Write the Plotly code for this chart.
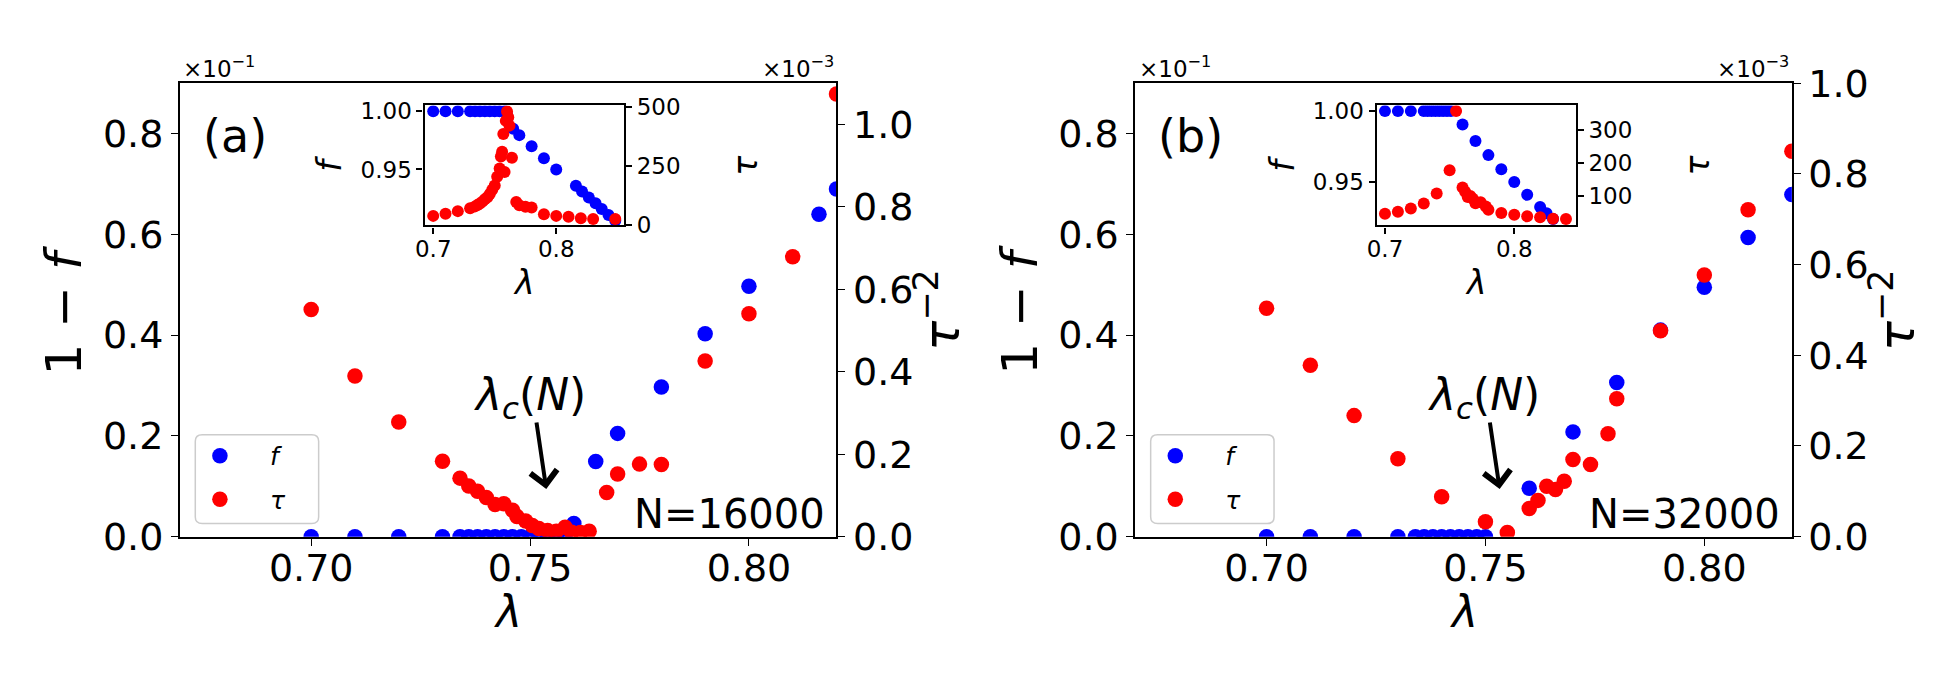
import plotly.graph_objects as go

W, H = 1951, 675
FONT = "DejaVu Sans"
BLUE = "#0000ff"
RED = "#ff0000"

# ---------------- Panel (a): N = 16000 ----------------
# main: 1-f (x10^-1, left axis) and tau^-2 (x10^-3, right axis)
lam_a_f = [0.700, 0.710, 0.720, 0.730, 0.734, 0.736, 0.738, 0.740, 0.742, 0.744,
           0.746, 0.748, 0.750, 0.752, 0.754, 0.756, 0.758, 0.760, 0.765, 0.770,
           0.780, 0.790, 0.800, 0.816, 0.820]
omf_a = [0, 0, 0, 0, 0, 0, 0, 0, 0, 0,
         0, 0, 0, 0, 0, 0, 0, 0.026, 0.149, 0.205,
         0.297, 0.403, 0.497, 0.640, 0.690]
lam_a_tau = [0.700, 0.710, 0.720, 0.730, 0.734, 0.736, 0.738, 0.740, 0.742, 0.744,
             0.746, 0.747, 0.749, 0.7505, 0.752, 0.754, 0.756, 0.758, 0.7595, 0.7615,
             0.7635, 0.7675, 0.770, 0.775, 0.780, 0.790, 0.800, 0.810, 0.820]
tau2_a = [0.551, 0.390, 0.278, 0.183, 0.142, 0.123, 0.110, 0.095, 0.078, 0.080,
          0.064, 0.049, 0.038, 0.027, 0.020, 0.015, 0.013, 0.023, 0.011, 0.010,
          0.013, 0.107, 0.152, 0.176, 0.175, 0.426, 0.541, 0.679, 1.074]
# inset: f (left) and tau (right)
lam_a_in_f = [0.700, 0.710, 0.720, 0.730, 0.734, 0.738, 0.742, 0.746, 0.750, 0.754,
              0.758, 0.760, 0.765, 0.770, 0.780, 0.790, 0.800, 0.816, 0.821, 0.8265,
              0.832, 0.837, 0.8425, 0.848]
f_a_in = [1, 1, 1, 1, 1, 1, 1, 1, 1, 1,
          1, 0.9974, 0.985, 0.9795, 0.970, 0.9597, 0.950, 0.936, 0.931, 0.926,
          0.921, 0.916, 0.911, 0.906]
lam_a_in_tau = [0.700, 0.710, 0.720, 0.730, 0.734, 0.736, 0.738, 0.740, 0.742, 0.744,
                0.746, 0.748, 0.750, 0.752, 0.754, 0.755, 0.756, 0.757, 0.758, 0.759,
                0.760, 0.761, 0.762, 0.764, 0.7675, 0.770, 0.775, 0.780, 0.790, 0.800,
                0.810, 0.820, 0.830, 0.848]
tau_a_in = [40, 49, 60, 72, 80, 86, 92, 100, 110, 118,
            132, 150, 168, 205, 240, 290, 310, 385, 225, 440,
            480, 455, 420, 285, 98, 85, 78, 75, 47, 40,
            36, 30, 27, 27]

# ---------------- Panel (b): N = 32000 ----------------
lam_b_f = [0.700, 0.710, 0.720, 0.730, 0.734, 0.736, 0.738, 0.740, 0.742, 0.744,
           0.746, 0.748, 0.750, 0.760, 0.770, 0.780, 0.790, 0.800, 0.810, 0.820]
omf_b = [0, 0, 0, 0, 0, 0, 0, 0, 0, 0,
         0, 0, 0, 0.096, 0.208, 0.306, 0.410, 0.495, 0.594, 0.679]
lam_b_tau = [0.700, 0.710, 0.720, 0.730, 0.740, 0.750, 0.755, 0.760, 0.762, 0.764,
             0.766, 0.768, 0.770, 0.774, 0.778, 0.780, 0.790, 0.800, 0.810, 0.820]
tau2_b = [0.504, 0.378, 0.267, 0.172, 0.088, 0.033, 0.009, 0.062, 0.080, 0.111,
          0.104, 0.122, 0.170, 0.159, 0.227, 0.304, 0.454, 0.577, 0.721, 0.850]
lam_b_in_f = [0.700, 0.710, 0.720, 0.730, 0.733, 0.736, 0.739, 0.742, 0.745, 0.748,
              0.751, 0.760, 0.770, 0.780, 0.790, 0.800, 0.810, 0.820, 0.825, 0.830]
f_b_in = [1, 1, 1, 1, 1, 1, 1, 1, 1, 1,
          1, 0.9906, 0.979, 0.969, 0.959, 0.950, 0.941, 0.9325, 0.928, 0.924]
lam_b_in_tau = [0.700, 0.710, 0.720, 0.730, 0.740, 0.750, 0.755, 0.760, 0.762, 0.764,
                0.766, 0.768, 0.770, 0.774, 0.778, 0.780, 0.790, 0.800, 0.810, 0.820,
                0.830, 0.840]
tau_b_in = [45, 51, 61, 76, 107, 178, 359, 125, 112, 96,
            99, 91, 77, 80, 67, 57, 47, 42, 37, 34,
            30, 29]

# tick labels
main_x_ticks = [0.70, 0.75, 0.80]
main_left_ticks = [0.0, 0.2, 0.4, 0.6, 0.8]
main_right_ticks = [0.0, 0.2, 0.4, 0.6, 0.8, 1.0]
inset_x_ticks = [0.7, 0.8]
inset_f_ticks = [0.95, 1.00]
inset_tau_ticks_a = [0, 250, 500]
inset_tau_ticks_b = [100, 200, 300]


def px(x):
    return x / W


def py(y):
    return 1 - y / H


def axis(size, lw, tl, **kw):
    d = dict(showline=True, linecolor="black", linewidth=lw, ticks="outside",
             ticklen=tl, tickwidth=lw * 0.8, tickcolor="black", showgrid=False,
             zeroline=False, tickfont=dict(size=size, color="black", family=FONT))
    d.update(kw)
    return d


fig = go.Figure()

MS = 15.5
IMS = 12

# panel (a) main
fig.add_trace(go.Scatter(x=lam_a_f, y=omf_a, mode="markers", name="<i>f</i>",
                         marker=dict(color=BLUE, size=MS), xaxis="x", yaxis="y",
                         legend="legend", legendgroup="fa"))
fig.add_trace(go.Scatter(x=lam_a_tau, y=tau2_a, mode="markers", name="<i>τ</i>",
                         marker=dict(color=RED, size=MS), xaxis="x", yaxis="y2",
                         legend="legend", legendgroup="ta"))
# panel (b) main
fig.add_trace(go.Scatter(x=lam_b_f, y=omf_b, mode="markers", name="<i>f</i>",
                         marker=dict(color=BLUE, size=MS), xaxis="x2", yaxis="y3",
                         legend="legend2", legendgroup="fb"))
fig.add_trace(go.Scatter(x=lam_b_tau, y=tau2_b, mode="markers", name="<i>τ</i>",
                         marker=dict(color=RED, size=MS), xaxis="x2", yaxis="y4",
                         legend="legend2", legendgroup="tb"))
# inset (a)
fig.add_trace(go.Scatter(x=lam_a_in_f, y=f_a_in, mode="markers", showlegend=False,
                         marker=dict(color=BLUE, size=IMS), xaxis="x3", yaxis="y5"))
fig.add_trace(go.Scatter(x=lam_a_in_tau, y=tau_a_in, mode="markers", showlegend=False,
                         marker=dict(color=RED, size=IMS), xaxis="x3", yaxis="y6"))
# inset (b)
fig.add_trace(go.Scatter(x=lam_b_in_f, y=f_b_in, mode="markers", showlegend=False,
                         marker=dict(color=BLUE, size=IMS), xaxis="x4", yaxis="y7"))
fig.add_trace(go.Scatter(x=lam_b_in_tau, y=tau_b_in, mode="markers", showlegend=False,
                         marker=dict(color=RED, size=IMS), xaxis="x4", yaxis="y8"))

# geometry (pixels)
A_L, A_R = 162.7, 822.7
B_L, B_R = 1123.0, 1783.0
TOP, BOT = 57.0, 542.0
IN_T, IN_B = 80.7, 209.0
IA_L, IA_R = 408.7, 609.0
IB_L, IB_R = 1365.7, 1565.7

ydom = [py(BOT), py(TOP)]
iydom = [py(IN_B), py(IN_T)]

TS = 38
ITS = 23
LW = 1.8
ILW = 2.4

mx = dict(range=[0.67, 0.82], tickvals=main_x_ticks, ticklabelstandoff=-10,
          ticktext=[f"{v:.2f}" for v in main_x_ticks], mirror=True)
ml = dict(range=[0, 0.9], tickvals=main_left_ticks,
          ticktext=[f"{v:.1f}" for v in main_left_ticks])
mr = dict(tickvals=main_right_ticks, ticktext=[f"{v:.1f}" for v in main_right_ticks])

fig.update_layout(
    width=W, height=H, margin=dict(l=0, r=0, t=0, b=0),
    paper_bgcolor="white", plot_bgcolor="white",
    font=dict(family=FONT, color="black"),
    xaxis=axis(TS, LW, 7, domain=[px(A_L), px(A_R)], anchor="y", **mx),
    yaxis=axis(TS, LW, 7, domain=ydom, anchor="x", **ml),
    yaxis2=axis(TS, LW, 7, overlaying="y", side="right", anchor="x",
                range=[0, 1.1], **mr),
    xaxis2=axis(TS, LW, 7, domain=[px(B_L), px(B_R)], anchor="y3", **mx),
    yaxis3=axis(TS, LW, 7, domain=ydom, anchor="x2", **ml),
    yaxis4=axis(TS, LW, 7, overlaying="y3", side="right", anchor="x2",
                range=[0, 1.0], **mr),
    xaxis3=axis(ITS, ILW, 6, domain=[px(IA_L), px(IA_R)], anchor="y5",
                range=[0.693, 0.855], tickvals=inset_x_ticks, ticklabelstandoff=-4,
                ticktext=[f"{v:.1f}" for v in inset_x_ticks], mirror=True),
    yaxis5=axis(ITS, ILW, 6, domain=iydom, anchor="x3", range=[0.902, 1.005],
                tickvals=inset_f_ticks, ticktext=[f"{v:.2f}" for v in inset_f_ticks]),
    yaxis6=axis(ITS, ILW, 6, overlaying="y5", side="right", anchor="x3",
                range=[0, 505], tickvals=inset_tau_ticks_a,
                ticktext=[str(v) for v in inset_tau_ticks_a]),
    xaxis4=axis(ITS, ILW, 6, domain=[px(IB_L), px(IB_R)], anchor="y7",
                range=[0.6936, 0.8475], tickvals=inset_x_ticks, ticklabelstandoff=-4,
                ticktext=[f"{v:.1f}" for v in inset_x_ticks], mirror=True),
    yaxis7=axis(ITS, ILW, 6, domain=iydom, anchor="x4", range=[0.9195, 1.004],
                tickvals=inset_f_ticks, ticktext=[f"{v:.2f}" for v in inset_f_ticks]),
    yaxis8=axis(ITS, ILW, 6, overlaying="y7", side="right", anchor="x4",
                range=[9.4, 376], tickvals=inset_tau_ticks_b,
                ticktext=[str(v) for v in inset_tau_ticks_b]),
)

# legends
LEG_FONT = 25
for key, left in (("legend", A_L), ("legend2", B_L)):
    fig.update_layout({key: dict(
        x=px(left - 10), y=py(431), xanchor="left", yanchor="top",
        bgcolor="rgba(0,0,0,0)", borderwidth=0, itemwidth=90,
        tracegroupgap=8, font=dict(size=LEG_FONT, family=FONT, color="black"))})


# rounded legend frames
def rrect(x0, y0, x1, y1, r=7):
    X = lambda v: px(v)
    Y = lambda v: py(v)
    return (f"M {X(x0 + r)},{Y(y0)} L {X(x1 - r)},{Y(y0)} Q {X(x1)},{Y(y0)} {X(x1)},{Y(y0 + r)} "
            f"L {X(x1)},{Y(y1 - r)} Q {X(x1)},{Y(y1)} {X(x1 - r)},{Y(y1)} "
            f"L {X(x0 + r)},{Y(y1)} Q {X(x0)},{Y(y1)} {X(x0)},{Y(y1 - r)} "
            f"L {X(x0)},{Y(y0 + r)} Q {X(x0)},{Y(y0)} {X(x0 + r)},{Y(y0)} Z")


shapes = []
for left in (A_L, B_L):
    shapes.append(dict(type="path", xref="paper", yref="paper",
                       path=rrect(left + 15.5, 433, left + 139.5, 528),
                       line=dict(color="#cccccc", width=1.5),
                       fillcolor="rgba(255,255,255,0.8)", layer="below"))
fig.update_layout(shapes=shapes)

ann = []


def text(t, x, y, size, xa="center", ya="middle", angle=0):
    ann.append(dict(text=t, x=px(x), y=py(y), xref="paper", yref="paper",
                    xanchor=xa, yanchor=ya, showarrow=False, textangle=angle,
                    font=dict(size=size, family=FONT, color="black")))


for off, lab, n, dx in ((0, "(a)", "N=16000", 0), (B_L - A_L, "(b)", "N=32000", -2)):
    text(lab, 184 + off, 113, 46, xa="left")
    text("×10<sup>−1</sup>", 164 + off, 40, 23, xa="left")
    text("×10<sup>−3</sup>", 822 + off, 40, 23, xa="right")
    text("1 − <i>f</i>", A_L - 116 + off, 299.5, 50, angle=-90)
    text("<i>τ</i><sup>−2</sup>", A_R + 103 + off, 299.5, 50, angle=-90)
    text("<i>λ</i>", (A_L + A_R) / 2 + off, 622, 44)
    text(n, 813 + off, 518, 40, xa="right")
    text("<i>λ</i><sub><i>c</i></sub>(<i>N</i>)", 515 + off + dx, 393, 44)
    ann.append(dict(text="", x=px(531 + off + dx), y=py(491),
                    ax=-10, ay=-68, xref="paper", yref="paper", showarrow=True,
                    arrowhead=4, arrowsize=1.3, arrowwidth=4, arrowcolor="black",
                    standoff=0))

for il, ir in ((IA_L, IA_R), (IB_L, IB_R)):
    text("<i>f</i>", il - 95, 143, 33, angle=-90)
    text("<i>λ</i>", (il + ir) / 2, 270, 33)
    text("<i>τ</i>", ir + 122, 145, 33, angle=-90)

fig.update_layout(annotations=ann)

fig.write_html("out.html")
